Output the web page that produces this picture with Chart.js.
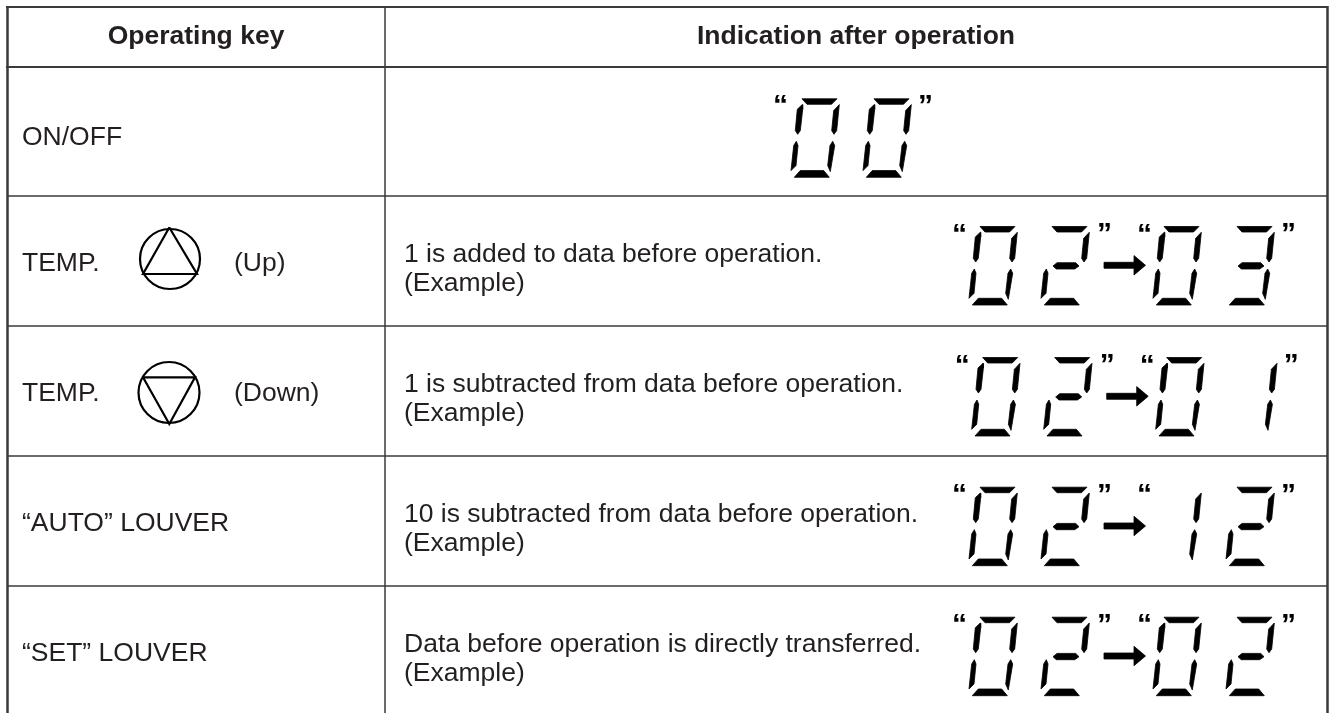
<!DOCTYPE html>
<html><head><meta charset="utf-8">
<style>html,body{margin:0;padding:0;background:#fff;overflow:hidden}#w{position:relative;width:1330px;height:713px}canvas{display:block}</style>
<script src="https://cdn.jsdelivr.net/npm/chart.js@4"></script>
</head><body><div id="w"><canvas id="c" width="1330" height="713"></canvas></div>
<script>
const headers = ['Operating key','Indication after operation'];
const keyLabels = ['ON/OFF','TEMP.','TEMP.','\u201CAUTO\u201D LOUVER','\u201CSET\u201D LOUVER'];
const keyNotes = ['','(Up)','(Down)','',''];
const indicationLine1 = ['','1 is added to data before operation.','1 is subtracted from data before operation.','10 is subtracted from data before operation.','Data before operation is directly transferred.'];
const indicationLine2 = ['','(Example)','(Example)','(Example)','(Example)'];
const displayBefore = ['00','02','02','02','02'];
const displayAfter = ['','03','01','12','02'];
const rowTopY = [98.3,226,357,486.7,616.7];
const rowShiftX = [0,0,2.7,0,0];
const rowTextY = [145,271,401,531,661];
const rowLinesY = [196,326,456,586];
const SEG = {
 a:[[0,.5],[35,.5],[29.5,6],[5,6]],
 b:[[37.3,6.3],[34.7,32.3],[32,36],[29.7,32.3],[31.7,12.3]],
 c:[[30.7,43],[32.7,47.3],[28.3,73.3],[25.7,67.3],[28,47.3]],
 d:[[-7.7,79],[27.3,79],[21.7,72.3],[-1.7,72.3]],
 e:[[-5.7,43],[-4,47.3],[-6,67.3],[-11,72.3],[-8.3,47.3]],
 f:[[.3,6.3],[.7,11],[-1.7,32.3],[-4.3,36],[-6.7,32.3],[-4.7,11]],
 g:[[1,40],[5,36.7],[23.7,36.7],[27,40],[22.7,43],[4.3,43]]
};
const DIGITS = {'0':'abcdef','1':'bc','2':'abgde','3':'abgcd'};
const slotX = [980,1052,1164,1237];
const onSlotX = [802,874];
const INK = '#000', TXT = '#231f20', RULE = '#3a3a3a';

const datasets = [];
function line(pts,w,c){datasets.push({data:pts.map(p=>({x:p[0],y:p[1]})),showLine:true,borderColor:c,borderWidth:w,pointRadius:0,fill:false,tension:0});}
function poly(pts,c){const d=pts.concat([pts[0]]).map(p=>({x:p[0],y:p[1]}));datasets.push({data:d,showLine:true,borderColor:c,backgroundColor:c,borderWidth:.8,pointRadius:0,fill:'shape',tension:0});}
function digit(ch,x,y){for(const s of DIGITS[ch])poly(SEG[s].map(p=>[p[0]+x,p[1]+y]),INK);}
function ring(x,y,r){datasets.push({data:[{x,y}],pointRadius:r,pointStyle:'circle',pointBackgroundColor:'rgba(0,0,0,0)',pointBorderColor:INK,pointBorderWidth:2.2,showLine:false});}

line([[7.5,6],[7.5,713]],2.5,RULE);
line([[6,7],[1328,7]],2,RULE);
line([[6,67],[1328,67]],2,RULE);
line([[385,7],[385,713]],1.5,RULE);
line([[1327.5,6],[1327.5,713]],2.5,RULE);
rowLinesY.forEach(y=>line([[7,y],[1327,y]],1.5,RULE));

const quotes=[];
rowTopY.forEach((y,i)=>{
  const sx=rowShiftX[i];
  if(i===0){
    [...displayBefore[i]].forEach((d,k)=>digit(d,onSlotX[k],y));
    quotes.push(['\u201C',774,y-3],['\u201D',919,y-3.5]);
    return;
  }
  [...displayBefore[i]].forEach((d,k)=>digit(d,slotX[k]+sx,y));
  [...displayAfter[i]].forEach((d,k)=>digit(d,slotX[k+2]+sx,y));
  quotes.push(['\u201C',953+sx,y-2.5],['\u201D',1098+sx,y-3],['\u201C',1138+sx,y-2.5],['\u201D',1282+sx,y-3]);
  const ay=y+39.3, ax=1104+sx;
  poly([[ax,ay-3],[ax+30,ay-3],[ax+30,ay-9.7],[ax+41.5,ay],[ax+30,ay+9.7],[ax+30,ay+3],[ax,ay+3]],INK);
});

ring(170,259,30);
line([[169.3,227.5],[143,274],[197,274],[169.3,227.5]],2.2,INK);
ring(169,392.5,30.5);
line([[143,377.3],[195,377.3],[169.3,424],[143,377.3]],2.2,INK);

const textPlugin={id:'tableText',afterDatasetsDraw(ch){
  const g=ch.ctx,X=ch.scales.x,Y=ch.scales.y;
  const put=(t,x,y,font,al,col)=>{g.font=font;g.textAlign=al||'left';g.textBaseline='alphabetic';g.fillStyle=col||TXT;g.fillText(t,X.getPixelForValue(x),Y.getPixelForValue(y));};
  g.save();
  const F='"Liberation Sans", Arial, sans-serif';
  put(headers[0],196,44,'bold 26.5px '+F,'center');
  put(headers[1],856,44,'bold 26.5px '+F,'center');
  keyLabels.forEach((t,i)=>{
    put(t,22,rowTextY[i],'26.5px '+F);
    if(keyNotes[i])put(keyNotes[i],234,rowTextY[i],'26.5px '+F);
    if(indicationLine1[i]){
      put(indicationLine1[i],404,rowTextY[i]-9,'26.5px '+F);
      put(indicationLine2[i],404,rowTextY[i]+20,'26.5px '+F);
    }
  });
  quotes.forEach(q=>{put(q[0],q[1]-1,q[2]+20,'bold 30px '+F,'left',INK);});
  g.restore();
}};

new Chart(document.getElementById('c'),{
  type:'scatter',
  data:{datasets},
  plugins:[textPlugin],
  options:{responsive:false,animation:false,events:[],
    layout:{padding:0,autoPadding:false},
    plugins:{legend:{display:false},title:{display:false},tooltip:{enabled:false}},
    scales:{
      x:{type:'linear',min:0,max:1330,display:false},
      y:{type:'linear',min:0,max:713,reverse:true,display:false}
    }}
});
</script></body></html>
